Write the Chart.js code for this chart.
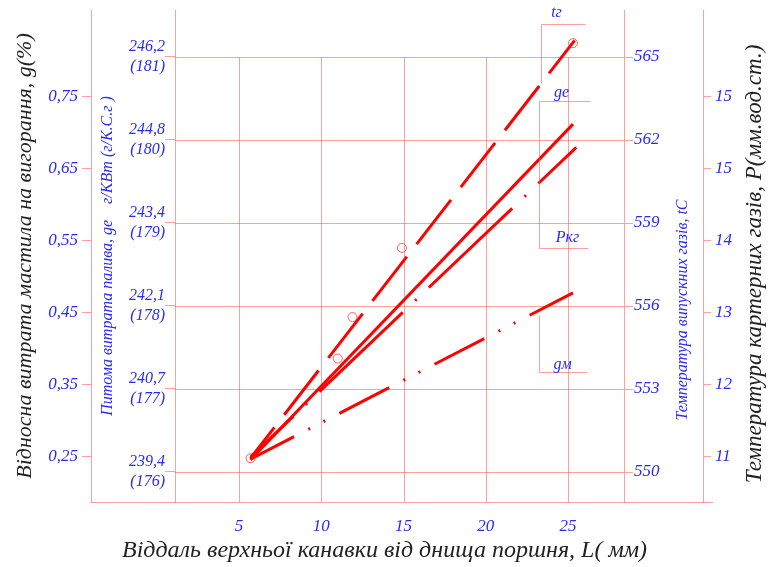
<!DOCTYPE html>
<html>
<head>
<meta charset="utf-8">
<script src="https://cdn.jsdelivr.net/npm/chart.js@4.4.0/dist/chart.umd.min.js"></script>
<style>
  body { margin: 0; background: #fff; }
  canvas { display: block; }
</style>
</head>
<body>
<canvas id="myChart" width="777" height="567"></canvas>
<script>
// ------------------ Data -------------------
var xTicks = [5, 10, 15, 20, 25];
var gTicks = [0.25, 0.35, 0.45, 0.55, 0.65, 0.75];
var geTicks = ['239,4', '240,7', '242,1', '243,4', '244,8', '246,2'];
var geTicksHp = ['(176)', '(177)', '(178)', '(179)', '(180)', '(181)'];
var tTicks = [550, 553, 556, 559, 562, 565];
var pTickVals = [11, 12, 13, 14, 15, 16];
var pTicks = ['11', '12', '13', '14', '15', '15'];

// tг - температура випускних газів
var tgL = [5.7, 25.4];
var tgVals = [550.5, 565.6];
var tgPointL = [5.7, 11.0, 11.9, 14.9, 25.3];
var tgPointVals = [550.5, 554.1, 555.6, 558.1, 565.5];
// gе - питома витрата палива
var geL = [5.7, 25.3];
var geVals = [239.6, 245.1];
// Pкг - тиск картерних газів
var pL = [5.7, 25.5];
var pVals = [11.0, 15.3];
// gм - відносна витрата мастила
var gmL = [5.7, 25.3];
var gmVals = [0.247, 0.478];

function pts(xs, ys) {
  return xs.map(function (x, i) { return { x: x, y: ys[i] }; });
}

var geFirst = parseFloat(geTicks[0].replace(',', '.'));
var geLast = parseFloat(geTicks[geTicks.length - 1].replace(',', '.'));
var geStep = (geLast - geFirst) / (geTicks.length - 1);

// ------------------ Styles -------------------
var red = '#ff0000';
var gridColor = 'rgba(255, 80, 80, 0.55)';
var blue = '#2a2af2';
var serif = 'Liberation Serif';
var tickFont = { family: serif, style: 'italic', size: 17 };

// keep the plot area where the frame is, whatever the label sizes
function noPadY(s) { s.paddingTop = 0; s.paddingBottom = 0; }

// Frame, vertical grid, brackets, titles
var framePlugin = {
  id: 'frame',
  beforeDatasetsDraw: function (chart) {
    var ctx = chart.ctx, a = chart.chartArea, xs = chart.scales.x, yT = chart.scales.yT;
    var top = Math.round(yT.getPixelForValue(tTicks[tTicks.length - 1])) + 0.5;
    ctx.save();
    ctx.strokeStyle = gridColor;
    ctx.lineWidth = 1;
    ctx.beginPath();
    xTicks.forEach(function (v) {
      var px = Math.round(xs.getPixelForValue(v)) + 0.5;
      ctx.moveTo(px, top);
      ctx.lineTo(px, a.bottom);
    });
    var by = Math.round(a.bottom) + 0.5;
    ctx.moveTo(chart.scales.yG.right, by);
    ctx.lineTo(chart.scales.yP.left + 10, by);
    ctx.stroke();
    ctx.restore();
  },
  afterDraw: function (chart) {
    var ctx = chart.ctx, a = chart.chartArea, xs = chart.scales.x, yT = chart.scales.yT;
    function X(v) { return Math.round(xs.getPixelForValue(v)) + 0.5; }
    function Y(v) { return Math.round(yT.getPixelForValue(v)) + 0.5; }
    // bracket lines (x in L units, y in tC units)
    var lines = [
      [23.36, 566.19, 26.03, 566.19], [23.36, 566.19, 23.36, 564.06],
      [23.24, 563.41, 26.34, 563.41], [23.24, 563.41, 23.24, 558.10],
      [23.24, 558.10, 26.2, 558.10],
      [23.24, 555.67, 23.24, 553.61], [23.24, 553.61, 26.15, 553.61]
    ];
    ctx.save();
    ctx.strokeStyle = gridColor;
    ctx.lineWidth = 1;
    ctx.beginPath();
    lines.forEach(function (l) {
      ctx.moveTo(X(l[0]), Y(l[1]));
      ctx.lineTo(X(l[2]), Y(l[3]));
    });
    ctx.stroke();

    ctx.fillStyle = blue;
    ctx.font = 'italic 16px "' + serif + '"';
    ctx.textAlign = 'center';
    ctx.textBaseline = 'middle';
    ctx.fillText('tг', X(24.25), Y(566.62));
    ctx.fillText('gе', X(24.55), Y(563.75));
    ctx.fillText('Pкг', X(24.95), Y(558.5));
    ctx.fillText('gм', X(24.65), Y(553.9));

    // right side titles, read bottom-up like the left ones
    var cy = (a.top + a.bottom) / 2;
    ctx.save();
    ctx.translate(chart.scales.yT.right - 20, cy + 54);
    ctx.rotate(-Math.PI / 2);
    ctx.font = 'italic 16px "' + serif + '"';
    ctx.fillText('Температура випускних газів, tС', 0, 0);
    ctx.restore();

    ctx.save();
    ctx.translate(chart.scales.yP.right - 22, cy + 8);
    ctx.rotate(-Math.PI / 2);
    ctx.fillStyle = '#222';
    ctx.font = 'italic 23px "' + serif + '"';
    ctx.fillText('Температура картерних газів, P(мм.вод.ст.)', 0, 0);
    ctx.restore();

    // bottom title, a little left of the plot centre as in the source
    ctx.fillStyle = '#222';
    ctx.font = 'italic 24px "' + serif + '"';
    ctx.fillText('Віддаль верхньої канавки від днища поршня, L( мм)', (a.left + a.right) / 2 - 15, a.bottom + 49);
    ctx.restore();
  }
};

var lineStyle = {
  type: 'line',
  borderColor: red,
  borderWidth: 3,
  pointRadius: 0,
  fill: false,
  tension: 0
};

var ctx = document.getElementById('myChart').getContext('2d');
var myChart = new Chart(ctx, {
  data: {
    datasets: [
      Object.assign({}, lineStyle, {
        label: 'tг', data: pts(tgL, tgVals), yAxisID: 'yT',
        borderDash: [56, 16], borderDashOffset: 17
      }),
      {
        type: 'scatter', label: 'tг точки', data: pts(tgPointL, tgPointVals), yAxisID: 'yT',
        pointRadius: 4.5, pointBorderWidth: 1, pointBorderColor: 'rgba(255, 60, 60, 0.8)',
        pointBackgroundColor: 'rgba(255,255,255,0)'
      },
      Object.assign({}, lineStyle, {
        label: 'gе', data: pts(geL, geVals), yAxisID: 'yGe'
      }),
      Object.assign({}, lineStyle, {
        label: 'Pкг', data: pts(pL, pVals), yAxisID: 'yP',
        borderDash: [115, 17, 2, 17], borderDashOffset: 56
      }),
      Object.assign({}, lineStyle, {
        label: 'gм', data: pts(gmL, gmVals), yAxisID: 'yG',
        borderDash: [56, 16, 2, 15, 2, 16], borderDashOffset: 7
      })
    ]
  },
  options: {
    responsive: false,
    animation: false,
    layout: { padding: { top: 10, left: 0, right: 0, bottom: 0 } },
    plugins: {
      legend: { display: false },
      tooltip: { enabled: false }
    },
    scales: {
      x: {
        type: 'linear',
        min: 1.11,
        max: 28.4,
        afterBuildTicks: function (s) { s.ticks = xTicks.map(function (v) { return { value: v }; }); },
        afterFit: function (s) { s.height = 65; s.paddingLeft = 0; s.paddingRight = 0; },
        grid: { display: false },
        border: { display: false },
        ticks: { color: blue, font: tickFont, padding: 6 }
      },
      yT: {
        type: 'linear',
        position: 'right',
        weight: 0,
        min: 548.916,
        max: 566.699,
        afterBuildTicks: function (s) { s.ticks = tTicks.map(function (v) { return { value: v }; }); },
        afterFit: function (s) { s.width = 79; noPadY(s); },
        grid: { color: gridColor, tickLength: 9, drawOnChartArea: true },
        border: { color: gridColor },
        ticks: { color: blue, font: tickFont, padding: 1, autoSkip: false }
      },
      yP: {
        type: 'linear',
        position: 'right',
        weight: 1,
        min: 10.375,
        max: 17.208,
        afterBuildTicks: function (s) { s.ticks = pTickVals.map(function (v) { return { value: v }; }); },
        afterFit: function (s) { s.width = 74; noPadY(s); },
        grid: { color: gridColor, tickLength: 8, drawOnChartArea: false },
        border: { color: gridColor },
        ticks: {
          color: blue, font: tickFont, padding: 4, autoSkip: false,
          callback: function (v, i) { return pTicks[i]; }
        }
      },
      yGe: {
        type: 'linear',
        position: 'left',
        weight: 0,
        min: 238.908,
        max: 246.97,
        afterBuildTicks: function (s) {
          s.ticks = geTicks.map(function (t, i) { return { value: geFirst + i * geStep }; });
        },
        afterFit: function (s) { s.width = 84; noPadY(s); },
        grid: { color: gridColor, tickLength: 10, drawOnChartArea: false },
        border: { color: gridColor },
        ticks: {
          color: blue, font: { family: serif, style: 'italic', size: 16, lineHeight: 1.25 },
          padding: 0, autoSkip: false,
          callback: function (v, i) { return [geTicks[i], geTicksHp[i]]; }
        },
        title: {
          display: true,
          text: 'Питома витрата палива, gе    г/КВт (г/К.С.г )',
          color: blue,
          font: { family: serif, style: 'italic', size: 16 },
          padding: { top: 7, bottom: 0 }
        }
      },
      yG: {
        type: 'linear',
        position: 'left',
        weight: 1,
        min: 0.1875,
        max: 0.8708,
        afterBuildTicks: function (s) { s.ticks = gTicks.map(function (v) { return { value: v }; }); },
        afterFit: function (s) { s.width = 91; noPadY(s); },
        grid: { color: gridColor, tickLength: 9, drawOnChartArea: false },
        border: { color: gridColor },
        ticks: {
          color: blue, font: tickFont, padding: 4, autoSkip: false,
          callback: function (v) { return v.toFixed(2).replace('.', ','); }
        },
        title: {
          display: true,
          text: 'Відносна витрата мастила на вигорання, g(%)',
          color: '#222',
          font: { family: serif, style: 'italic', size: 22 },
          padding: { top: 12, bottom: 0 }
        }
      }
    }
  },
  plugins: [framePlugin]
});
</script>
</body>
</html>
